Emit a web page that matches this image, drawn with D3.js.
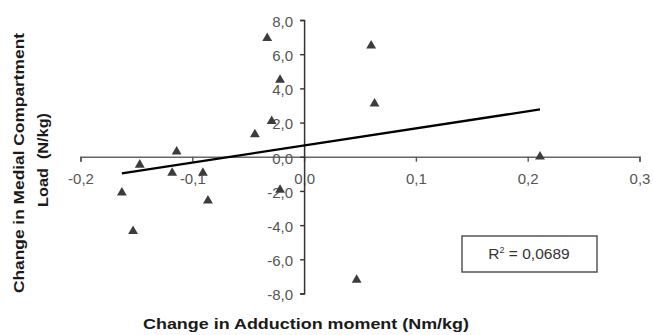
<!DOCTYPE html>
<html>
<head>
<meta charset="utf-8">
<script src="https://cdn.jsdelivr.net/npm/d3@7"></script>
<style>
  html, body { margin: 0; padding: 0; background: #fff; }
  svg { display: block; font-family: "Liberation Sans", Arial, sans-serif; }
</style>
</head>
<body>
<div class="chart"></div>
<script>
// change in adduction moment (Nm/kg) vs change in medial compartment load (N/kg)
const adductionChange = [-0.033, -0.0215, -0.029, -0.044, -0.114, -0.147, -0.118, -0.0905,
                         -0.163, -0.086, -0.153, -0.0215, 0.060, 0.063, 0.211, 0.047];
const loadChange = [6.94, 4.5, 2.08, 1.3, 0.3, -0.47, -0.95, -0.95,
                    -2.1, -2.57, -4.35, -1.94, 6.5, 3.1, 0.0, -7.2];
const xTicks = [-0.2, -0.1, 0.0, 0.1, 0.2, 0.3];
const yTicks = [-8, -6, -4, -2, 0, 2, 4, 6, 8];
const r2Label = '0,0689';
const xTitle = 'Change in Adduction moment (Nm/kg)';
const yTitleLines = ['Change in Medial Compartment', 'Load  (N/kg)'];

const width = 653, height = 335;
const points = adductionChange.map((x, i) => ({ x: x, y: loadChange[i] }));

const svg = d3.select('div.chart')
  .append('svg')
  .attr('width', width)
  .attr('height', height);

const x = d3.scaleLinear().domain([-0.2, 0.3]).range([80.5, 639.5]);
const y = d3.scaleLinear().domain([-8, 8]).range([293.5, 20]);

const locale = d3.formatLocale({ decimal: ',', thousands: '.', grouping: [3], currency: ['', ''], minus: '-' });
const fmt = locale.format('.1f');

// x axis sits on y = 0
const xAxis = svg.append('g')
  .attr('transform', `translate(0,${y(0)})`)
  .call(d3.axisBottom(x).tickValues(xTicks).tickFormat(fmt).tickSize(5).tickPadding(12));
xAxis.select('.domain').attr('stroke', '#666').attr('stroke-width', 1.6);
xAxis.selectAll('.tick line').attr('stroke', '#555').attr('stroke-width', 1.4);
xAxis.selectAll('.tick text')
  .attr('fill', '#555')
  .style('font-size', '15px');

// y axis sits on x = 0
const yAxis = svg.append('g')
  .attr('transform', `translate(${x(0)},0)`)
  .call(d3.axisLeft(y).tickValues(yTicks).tickFormat(fmt).tickSize(4).tickPadding(7));
yAxis.select('.domain').attr('stroke', '#333').attr('stroke-width', 1.5);
yAxis.selectAll('.tick line').attr('stroke', '#333').attr('stroke-width', 1.4);
yAxis.selectAll('.tick text')
  .attr('fill', '#555')
  .attr('dy', '0.42em')
  .style('font-size', '15px');

// linear trendline (least squares)
const mx = d3.mean(points, d => d.x), my = d3.mean(points, d => d.y);
const sxy = d3.sum(points, d => (d.x - mx) * (d.y - my));
const sxx = d3.sum(points, d => (d.x - mx) * (d.x - mx));
const slope = sxy / sxx, intercept = my - slope * mx;
const xExt = d3.extent(points, d => d.x);
const trend = xExt.map(v => ({ x: v, y: intercept + slope * v }));

svg.append('path')
  .datum(trend)
  .attr('fill', 'none')
  .attr('stroke', '#000')
  .attr('stroke-width', 2.3)
  .attr('d', d3.line().x(d => x(d.x)).y(d => y(d.y)));

// points
svg.selectAll('path.pt')
  .data(points)
  .enter()
  .append('path')
  .attr('class', 'pt')
  .attr('transform', d => `translate(${x(d.x)},${y(d.y)})`)
  .attr('d', d3.symbol(d3.symbolTriangle).size(42))
  .attr('fill', '#3c3c3c');

// R² box
const box = svg.append('g');
box.append('rect')
  .attr('x', 462).attr('y', 236)
  .attr('width', 135).attr('height', 36)
  .attr('fill', '#fff')
  .attr('stroke', '#555')
  .attr('stroke-width', 1.5);
const r2 = box.append('text')
  .attr('x', 529).attr('y', 259)
  .attr('text-anchor', 'middle')
  .attr('fill', '#333')
  .style('font-size', '15.5px');
r2.append('tspan').text('R');
r2.append('tspan').attr('dy', -6).style('font-size', '9px').text('2');
r2.append('tspan').attr('dy', 6).text(' = ' + r2Label);

// axis titles
svg.append('text')
  .attr('x', 306).attr('y', 329)
  .attr('text-anchor', 'middle')
  .attr('font-weight', 'bold')
  .attr('fill', '#1a1a1a')
  .attr('textLength', 326)
  .attr('lengthAdjust', 'spacingAndGlyphs')
  .style('font-size', '14px')
  .text(xTitle);

const yTitlePos = [{ tx: 24, ty: 163, len: 260 }, { tx: 48, ty: 160, len: 94 }];
svg.selectAll('text.ytitle')
  .data(yTitleLines)
  .enter()
  .append('text')
  .attr('class', 'ytitle')
  .attr('transform', (d, i) => `translate(${yTitlePos[i].tx},${yTitlePos[i].ty}) rotate(-90)`)
  .attr('text-anchor', 'middle')
  .attr('font-weight', 'bold')
  .attr('fill', '#1a1a1a')
  .attr('textLength', (d, i) => yTitlePos[i].len)
  .attr('lengthAdjust', 'spacingAndGlyphs')
  .style('font-size', '14px')
  .style('white-space', 'pre')
  .text(d => d);
</script>
</body>
</html>
